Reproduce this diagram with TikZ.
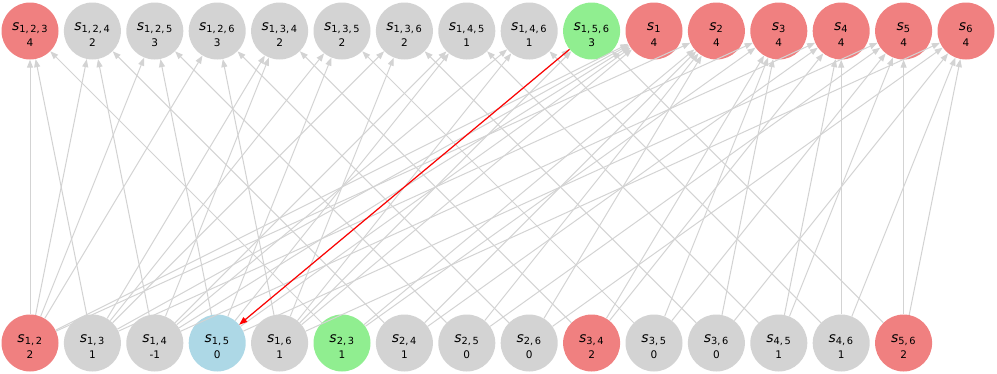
\documentclass[tikz,border=0pt]{standalone}
\usepackage{fontspec}
\setmainfont{DejaVu Sans}
\usetikzlibrary{arrows.meta}
\definecolor{knotenrot}{RGB}{240,128,128}
\definecolor{knotengrau}{RGB}{211,211,211}
\definecolor{knotengruen}{RGB}{144,238,144}
\definecolor{knotenblau}{RGB}{173,216,230}

\begin{document}
\begin{tikzpicture}[x=1pt, y=-1pt,
			knoten/.style={circle, fill=#1, minimum size=57pt, inner sep=0pt, align=center},
			kante/.style={draw=knotengrau, line width=1pt, -{Triangle[length=8pt,width=6pt]}},
			rotkante/.style={draw=red, line width=1.2pt, -{Triangle[length=8pt,width=6pt]}}]
			\useasboundingbox (0,0) rectangle (997,373);
			% obere Reihe
			\foreach \name/\sub/\val/\col [count=\i from 0] in {s123/{1,\,2,\,3}/4/knotenrot, s124/{1,\,2,\,4}/2/knotengrau,
				s125/{1,\,2,\,5}/3/knotengrau, s126/{1,\,2,\,6}/3/knotengrau, s134/{1,\,3,\,4}/2/knotengrau,
				s135/{1,\,3,\,5}/2/knotengrau, s136/{1,\,3,\,6}/2/knotengrau, s145/{1,\,4,\,5}/1/knotengrau,
				s146/{1,\,4,\,6}/1/knotengrau, s156/{1,\,5,\,6}/3/knotengruen, s1/1/4/knotenrot, s2/2/4/knotenrot,
				s3/3/4/knotenrot, s4/4/4/knotenrot, s5/5/4/knotenrot, s6/6/4/knotenrot}
				\node[knoten=\col] (\name) at (30+62.4*\i, 31)
					{\rule{0pt}{15pt}{\fontsize{14}{14}\selectfont\textit{s}\textsubscript{\sub}}\\[4pt]{\fontsize{10.5}{12}\selectfont\val}};
			% untere Reihe
			\foreach \name/\sub/\val/\col [count=\i from 0] in {s12/{1,\,2}/2/knotenrot, s13/{1,\,3}/1/knotengrau,
				s14/{1,\,4}/-1/knotengrau, s15/{1,\,5}/0/knotenblau, s16/{1,\,6}/1/knotengrau, s23/{2,\,3}/1/knotengruen,
				s24/{2,\,4}/1/knotengrau, s25/{2,\,5}/0/knotengrau, s26/{2,\,6}/0/knotengrau, s34/{3,\,4}/2/knotenrot,
				s35/{3,\,5}/0/knotengrau, s36/{3,\,6}/0/knotengrau, s45/{4,\,5}/1/knotengrau, s46/{4,\,6}/1/knotengrau,
				s56/{5,\,6}/2/knotenrot}
				\node[knoten=\col] (\name) at (30+62.4*\i, 343)
					{\rule{0pt}{15pt}{\fontsize{14}{14}\selectfont\textit{s}\textsubscript{\sub}}\\[4pt]{\fontsize{10.5}{12}\selectfont\val}};
			% Kanten der Paare mit 1
			\foreach \j in {2,...,6} {
				\foreach \k in {2,...,6} {
					\ifnum\j=\k\else
						\pgfmathtruncatemacro\a{min(\j,\k)}
						\pgfmathtruncatemacro\b{max(\j,\k)}
						\draw[kante] (s1\j) -- (s1\a\b);
					\fi
				}
				\draw[kante] (s1\j) -- (s1);
				\draw[kante] (s1\j) -- (s\j);
			}
			% restliche Paare
			\foreach \i/\j in {2/3,2/4,2/5,2/6,3/4,3/5,3/6,4/5,4/6,5/6} {
				\draw[kante] (s\i\j) -- (s1\i\j);
				\draw[kante] (s\i\j) -- (s\i);
				\draw[kante] (s\i\j) -- (s\j);
			}
			% markierte Kante
			\draw[rotkante] (s156) -- (s15);
		\end{tikzpicture}
\end{document}
